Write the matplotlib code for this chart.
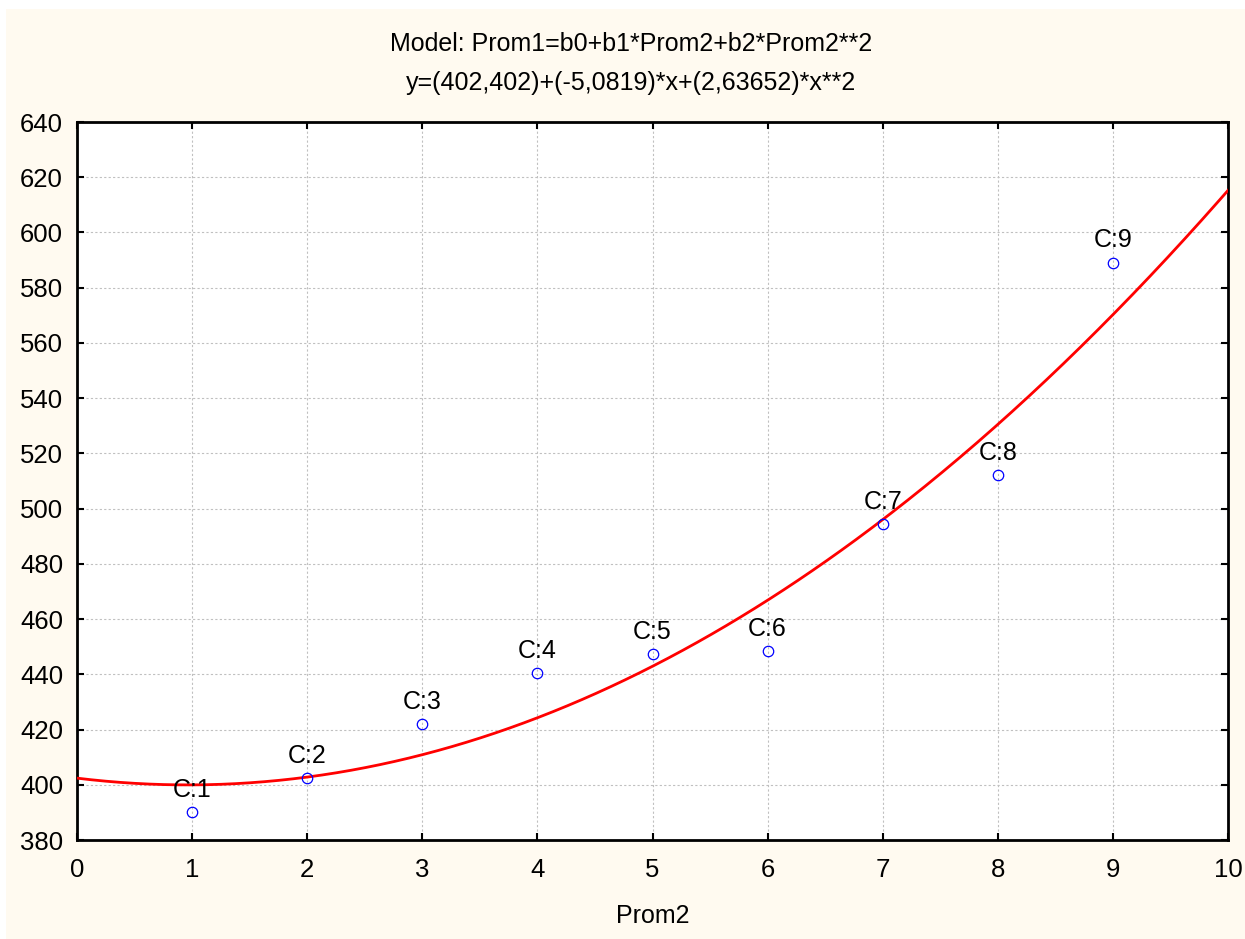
import numpy as np
import matplotlib
matplotlib.use("Agg")
import matplotlib.pyplot as plt
from matplotlib.patches import Rectangle

plt.rcParams['font.family'] = ['Liberation Sans', 'DejaVu Sans']

# Data
prom2 = [1, 2, 3, 4, 5, 6, 7, 8, 9]
prom1 = [390.0, 402.3, 422.0, 440.4, 447.3, 448.3, 494.4, 512.0, 589.0]
labels = ["C:1", "C:2", "C:3", "C:4", "C:5", "C:6", "C:7", "C:8", "C:9"]
coef_b0, coef_b1, coef_b2 = 402.402, -5.0819, 2.63652
xticks = list(range(0, 11))
yticks = list(range(380, 641, 20))

W, H = 1245, 939
fig = plt.figure(figsize=(W / 100, H / 100), dpi=100)
fig.patch.set_facecolor('white')
fig.patches.append(Rectangle((6 / W, 0), 1, 1 - 9 / H, transform=fig.transFigure,
                             facecolor='#fffaf0', edgecolor='none', zorder=-10))

ax = fig.add_axes([77 / W, 1 - 840 / H, (1228 - 77) / W, (840 - 122) / H])
ax.set_facecolor('white')

xs = np.linspace(0, 10, 400)
ys = coef_b0 + coef_b1 * xs + coef_b2 * xs ** 2
ax.plot(xs, ys, color='red', lw=2, zorder=3)
ax.plot(prom2, prom1, 'o', mfc='none', mec='blue', ms=7.5, mew=0.9, zorder=4)
for x, y, t in zip(prom2, prom1, labels):
    ax.annotate(t, (x, y), xytext=(0, 7.5), textcoords='offset points',
                ha='center', va='bottom', fontsize=18, color='black', zorder=5)

ax.set_xlim(0, 10)
ax.set_ylim(380, 640)
ax.set_xticks(xticks)
ax.set_yticks(yticks)
ax.grid(True, color='#c0c0c0', linestyle=(0, (2, 2)), lw=0.8)
ax.set_axisbelow(True)
ax.tick_params(direction='in', length=5, width=1.5, labelsize=18.5,
               top=True, right=True)
ax.tick_params(axis='y', pad=10)
ax.tick_params(axis='x', pad=13)
for s in ax.spines.values():
    s.set_linewidth(2)
ax.set_xlabel("Prom2", fontsize=18, labelpad=16)

fig.text(0.5 + (631 - W / 2) / W, 1 - 44 / H, "Model: Prom1=b0+b1*Prom2+b2*Prom2**2",
         ha='center', va='center', fontsize=18)
fig.text(0.5 + (631 - W / 2) / W, 1 - 83 / H, "y=(402,402)+(-5,0819)*x+(2,63652)*x**2",
         ha='center', va='center', fontsize=18)

fig.savefig("out.png", dpi=100)
